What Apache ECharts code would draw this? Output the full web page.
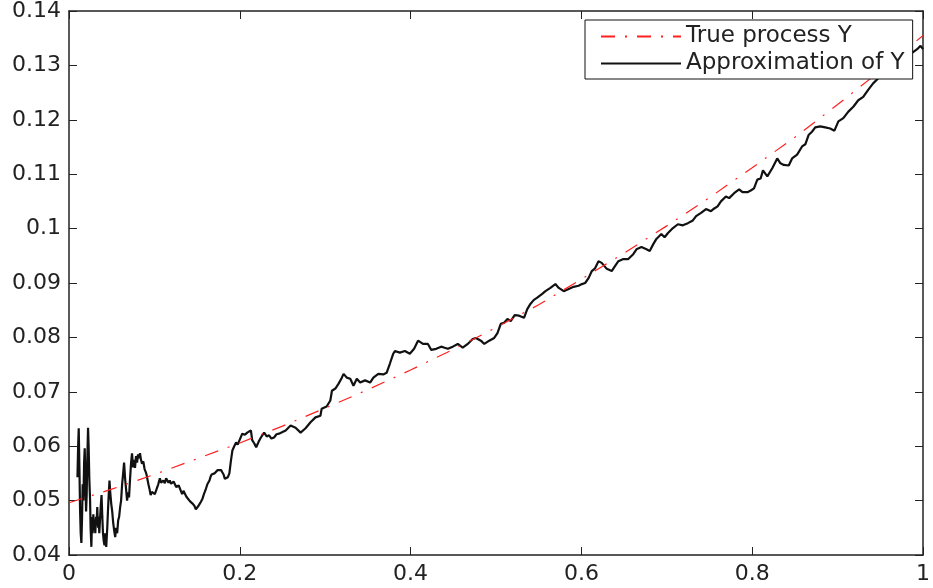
<!DOCTYPE html>
<html>
<head>
<meta charset="utf-8">
<script src="https://cdn.jsdelivr.net/npm/echarts@6/dist/echarts.min.js"></script>
<style>html,body{margin:0;padding:0;background:#fff}#c{width:933px;height:588px}</style>
</head>
<body>
<div id="c"></div>
<script>
const xTickLabels = ['0', '0.2', '0.4', '0.6', '0.8', '1'];
const yTickLabels = ['0.04', '0.05', '0.06', '0.07', '0.08', '0.09', '0.1', '0.11', '0.12', '0.13', '0.14'];
const seriesNames = ['True process Y', 'Approximation of Y'];

const trueX = [0, 0.05, 0.1, 0.15, 0.2, 0.25, 0.3, 0.35, 0.4, 0.45, 0.5, 0.55, 0.6, 0.65, 0.7, 0.75, 0.8, 0.85, 0.9, 0.95, 1.0];
const trueY = [0.0496, 0.0521, 0.0548, 0.0577, 0.0606, 0.0637, 0.0670, 0.0704, 0.0740, 0.0778, 0.0818, 0.0860, 0.0907, 0.0955, 0.1005, 0.1057, 0.1112, 0.1168, 0.1228, 0.1290, 0.1355];

const approxPoints = [
[0.0099,0.0543],[0.0107,0.0600],[0.0114,0.0633],[0.0122,0.0560],[0.0130,0.0480],[0.0137,0.0440],[0.0145,0.0422],[0.0153,0.0470],[0.0160,0.0530],[0.0169,0.0500],[0.0177,0.0570],[0.0184,0.0596],[0.0192,0.0540],[0.0200,0.0480],[0.0207,0.0510],[0.0215,0.0580],[0.0223,0.0634],[0.0230,0.0600],[0.0238,0.0540],[0.0247,0.0500],[0.0253,0.0450],[0.0262,0.0415],[0.0270,0.0470],[0.0277,0.0440],[0.0285,0.0475],[0.0293,0.0445],[0.0300,0.0465],[0.0308,0.0440],[0.0316,0.0470],[0.0323,0.0455],[0.0331,0.0488],[0.0340,0.0450],[0.0347,0.0470],[0.0355,0.0440],[0.0363,0.0465],[0.0372,0.0490],[0.0381,0.0510],[0.0390,0.0470],[0.0398,0.0440],[0.0407,0.0425],[0.0416,0.0418],[0.0424,0.0440],[0.0436,0.0415],[0.0448,0.0450],[0.0456,0.0480],[0.0465,0.0510],[0.0474,0.0537],[0.0483,0.0515],[0.0494,0.0495],[0.0506,0.0480],[0.0517,0.0460],[0.0529,0.0445],[0.0541,0.0433],[0.0552,0.0450],[0.0564,0.0440],[0.0576,0.0464],[0.0587,0.0470],[0.0599,0.0488],[0.0610,0.0500],[0.0622,0.0530],[0.0634,0.0550],[0.0645,0.0570],[0.0657,0.0540],[0.0669,0.0520],[0.0680,0.0500],[0.0692,0.0515],[0.0703,0.0506],[0.0715,0.0540],[0.0727,0.0570],[0.0738,0.0587],[0.0750,0.0561],[0.0762,0.0575],[0.0773,0.0560],[0.0785,0.0582],[0.0797,0.0570],[0.0808,0.0585],[0.0820,0.0578],[0.0831,0.0587],[0.0843,0.0575],[0.0855,0.0568],[0.0870,0.0572],[0.0885,0.0558],[0.0900,0.0552],[0.0909,0.0547],[0.0920,0.0538],[0.0930,0.0530],[0.0942,0.0522],[0.0956,0.0510],[0.0970,0.0516],[0.0986,0.0519],[0.1005,0.0512],[0.1026,0.0515],[0.1045,0.0530],[0.1064,0.0541],[0.1078,0.0533],[0.1090,0.0530],[0.1105,0.0537],[0.1122,0.0532],[0.1137,0.0541],[0.1150,0.0540],[0.1165,0.0533],[0.1180,0.0537],[0.1195,0.0531],[0.1210,0.0528],[0.1225,0.0535],[0.1238,0.0532],[0.1255,0.0525],[0.1270,0.0522],[0.1285,0.0528],[0.1297,0.0525],[0.1312,0.0517],[0.1325,0.0512],[0.1340,0.0518],[0.1355,0.0515],[0.1375,0.0507],[0.1395,0.0508],[0.1415,0.0499],[0.1433,0.0501],[0.1450,0.0494],[0.1470,0.0490],[0.1485,0.0484],[0.1502,0.0486],[0.1515,0.0490],[0.1530,0.0494],[0.1545,0.0498],[0.1564,0.0504],[0.1580,0.0512],[0.1600,0.0520],[0.1620,0.0530],[0.1645,0.0537],[0.1658,0.0544],[0.1670,0.0548],[0.1685,0.0546],[0.1703,0.0550],[0.1720,0.0552],[0.1740,0.0556],[0.1760,0.0553],[0.1781,0.0556],[0.1795,0.0552],[0.1810,0.0548],[0.1825,0.0540],[0.1840,0.0537],[0.1860,0.0543],[0.1878,0.0550],[0.1895,0.0572],[0.1913,0.0592],[0.1935,0.0600],[0.1956,0.0607],[0.1975,0.0603],[0.1994,0.0601],[0.2029,0.0623],[0.2060,0.0621],[0.2087,0.0625],[0.2110,0.0624],[0.2130,0.0629],[0.2145,0.0611],[0.2170,0.0605],[0.2192,0.0598],[0.2220,0.0608],[0.2247,0.0616],[0.2285,0.0625],[0.2315,0.0618],[0.2343,0.0620],[0.2370,0.0614],[0.2401,0.0616],[0.2430,0.0622],[0.2459,0.0623],[0.2500,0.0626],[0.2537,0.0629],[0.2595,0.0638],[0.2653,0.0634],[0.2712,0.0625],[0.2770,0.0633],[0.2828,0.0644],[0.2886,0.0653],[0.2944,0.0656],[0.2959,0.0669],[0.3017,0.0673],[0.3060,0.0684],[0.3079,0.0702],[0.3119,0.0706],[0.3157,0.0715],[0.3195,0.0726],[0.3215,0.0733],[0.3253,0.0726],[0.3293,0.0724],[0.3331,0.0711],[0.3351,0.0708],[0.3370,0.0724],[0.3409,0.0717],[0.3467,0.0721],[0.3526,0.0717],[0.3564,0.0726],[0.3622,0.0733],[0.3680,0.0732],[0.3719,0.0735],[0.3758,0.0752],[0.3797,0.0770],[0.3816,0.0775],[0.3874,0.0772],[0.3933,0.0775],[0.3991,0.0770],[0.4041,0.0779],[0.4087,0.0794],[0.4107,0.0797],[0.4145,0.0788],[0.4203,0.0788],[0.4242,0.0777],[0.4300,0.0779],[0.4358,0.0783],[0.4398,0.0781],[0.4436,0.0779],[0.4494,0.0783],[0.4552,0.0788],[0.4610,0.0781],[0.4669,0.0788],[0.4727,0.0797],[0.4765,0.0799],[0.4823,0.0794],[0.4863,0.0788],[0.4921,0.0794],[0.4979,0.0799],[0.5017,0.0808],[0.5056,0.0825],[0.5095,0.0827],[0.5134,0.0834],[0.5172,0.0830],[0.5219,0.0841],[0.5270,0.0840],[0.5328,0.0836],[0.5366,0.0852],[0.5405,0.0862],[0.5444,0.0869],[0.5483,0.0873],[0.5541,0.0880],[0.5579,0.0885],[0.5637,0.0891],[0.5695,0.0898],[0.5735,0.0891],[0.5793,0.0885],[0.5851,0.0889],[0.5909,0.0893],[0.5967,0.0895],[0.6006,0.0898],[0.6044,0.0900],[0.6084,0.0909],[0.6122,0.0922],[0.6160,0.0927],[0.6200,0.0940],[0.6238,0.0937],[0.6297,0.0926],[0.6355,0.0922],[0.6393,0.0931],[0.6433,0.0940],[0.6491,0.0944],[0.6549,0.0944],[0.6607,0.0953],[0.6645,0.0962],[0.6703,0.0966],[0.6762,0.0962],[0.6800,0.0959],[0.6840,0.0971],[0.6878,0.0981],[0.6936,0.0990],[0.6974,0.0984],[0.7014,0.0992],[0.7072,0.1001],[0.7130,0.1008],[0.7188,0.1006],[0.7247,0.1010],[0.7305,0.1015],[0.7343,0.1023],[0.7401,0.1029],[0.7459,0.1036],[0.7517,0.1032],[0.7556,0.1037],[0.7595,0.1041],[0.7634,0.1050],[0.7692,0.1059],[0.7730,0.1056],[0.7788,0.1065],[0.7847,0.1072],[0.7886,0.1067],[0.7944,0.1067],[0.7983,0.1070],[0.8021,0.1074],[0.8060,0.1090],[0.8099,0.1092],[0.8126,0.1107],[0.8177,0.1096],[0.8235,0.1111],[0.8293,0.1129],[0.8331,0.1120],[0.8370,0.1117],[0.8428,0.1116],[0.8467,0.1129],[0.8526,0.1136],[0.8584,0.1151],[0.8622,0.1155],[0.8660,0.1172],[0.8700,0.1178],[0.8738,0.1186],[0.8797,0.1188],[0.8855,0.1186],[0.8913,0.1184],[0.8963,0.1180],[0.9009,0.1197],[0.9067,0.1203],[0.9126,0.1215],[0.9184,0.1224],[0.9242,0.1236],[0.9300,0.1242],[0.9358,0.1255],[0.9416,0.1267],[0.9474,0.1276],[0.9553,0.1288],[0.9634,0.1296],[0.9727,0.1303],[0.9808,0.1316],[0.9863,0.1322],[0.9940,0.1331],[0.9971,0.1336],[1.0,0.1330]
];

const trueData = trueX.map((x, i) => [x, trueY[i]]);

const FONT = 'DejaVu Sans';
const AX = '#222';
function axisCommon(extra) {
  return Object.assign({
    type: 'value',
    axisLine: { show: true, onZero: false, lineStyle: { color: AX, width: 1.5 } },
    axisTick: { show: true, inside: true, length: 8, lineStyle: { color: AX, width: 1 } },
    splitLine: { show: false },
    axisLabel: { show: false }
  }, extra);
}

const chart = echarts.init(document.getElementById('c'), null, { renderer: 'canvas' });
chart.setOption({
  animation: false,
  backgroundColor: '#fff',
  grid: { left: 69, right: 5, top: 9, bottom: 33, containLabel: false },
  legend: {
    orient: 'vertical',
    left: 585, top: 20,
    padding: [3, 8, 2, 15],
    itemGap: 0,
    itemWidth: 80, itemHeight: 14,
    backgroundColor: '#fff',
    borderColor: '#111', borderWidth: 1,
    itemStyle: { opacity: 0 },
    textStyle: { fontFamily: FONT, fontSize: 23, color: '#222', lineHeight: 27 },
    data: seriesNames
  },
  xAxis: [
    axisCommon({ min: 0, max: 1, interval: 0.2, position: 'bottom',
      axisLabel: { show: true, fontFamily: FONT, fontSize: 22, color: '#222', margin: 8,
        showMinLabel: true, showMaxLabel: true,
        formatter: v => xTickLabels[Math.round(v / 0.2)] } }),
    axisCommon({ min: 0, max: 1, interval: 0.2, position: 'top' })
  ],
  yAxis: [
    axisCommon({ min: 0.04, max: 0.14, interval: 0.01, position: 'left',
      axisLabel: { show: true, fontFamily: FONT, fontSize: 22, color: '#222', margin: 8,
        showMinLabel: true, showMaxLabel: true,
        formatter: v => yTickLabels[Math.round((v - 0.04) / 0.01)] } }),
    axisCommon({ min: 0.04, max: 0.14, interval: 0.01, position: 'right' })
  ],
  series: [
    {
      name: seriesNames[0], type: 'line', xAxisIndex: 0, yAxisIndex: 0,
      data: trueData, showSymbol: false, symbol: 'none', z: 3,
      itemStyle: { color: '#ff0000' },
      lineStyle: { color: '#ff2020', width: 1.2, type: [14, 10, 2, 10] }
    },
    {
      name: seriesNames[1], type: 'line', xAxisIndex: 0, yAxisIndex: 0,
      data: approxPoints, showSymbol: false, symbol: 'none', z: 2,
      itemStyle: { color: '#111' },
      lineStyle: { color: '#111', width: 2.2 }
    }
  ]
});
</script>
</body>
</html>
